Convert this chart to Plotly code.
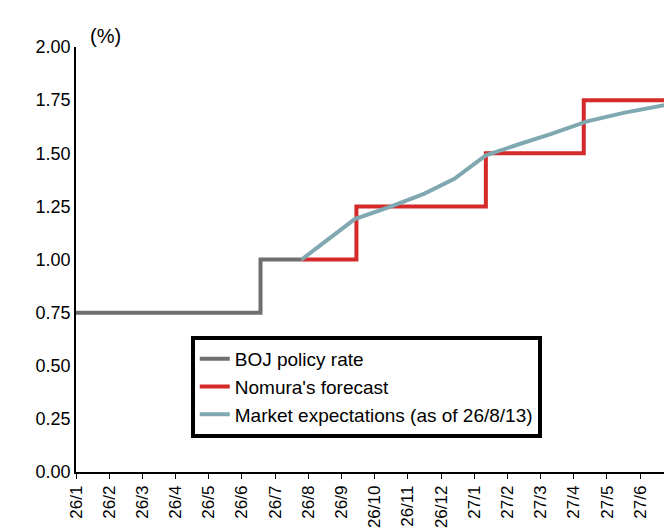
import plotly.graph_objects as go

months = ["26/1", "26/2", "26/3", "26/4", "26/5", "26/6", "26/7", "26/8", "26/9",
          "26/10", "26/11", "26/12", "27/1", "27/2", "27/3", "27/4", "27/5", "27/6"]

# x in months since 26/1
boj_x = [0, 5.56, 5.56, 6.8]
boj_y = [0.75, 0.75, 1.00, 1.00]

nomura_x = [6.8, 8.45, 8.45, 12.35, 12.35, 15.3, 15.3, 18.2]
nomura_y = [1.00, 1.00, 1.25, 1.25, 1.50, 1.50, 1.75, 1.75]

market_x = [6.8, 8.4, 9.5, 10.5, 11.4, 12.35, 13.3, 14.3, 15.4, 16.5, 18.2]
market_y = [1.00, 1.19, 1.25, 1.31, 1.38, 1.49, 1.54, 1.59, 1.65, 1.69, 1.74]

fig = go.Figure()
fig.add_trace(go.Scatter(x=boj_x, y=boj_y, mode="lines", name="BOJ policy rate",
                         line=dict(color="#6f6f6f", width=4)))
fig.add_trace(go.Scatter(x=nomura_x, y=nomura_y, mode="lines", name="Nomura's forecast",
                         line=dict(color="#d42a2a", width=4)))
fig.add_trace(go.Scatter(x=market_x, y=market_y, mode="lines",
                         name="Market expectations (as of 26/8/13)",
                         line=dict(color="#7fa8b0", width=4)))

fig.update_layout(
    width=672, height=530,
    paper_bgcolor="white", plot_bgcolor="white",
    margin=dict(l=68, r=0, t=39, b=66),
    font=dict(family="Liberation Sans, Arial", size=18, color="black"),
    showlegend=True,
    legend=dict(x=0.19, y=0.32, xanchor="left", yanchor="top",
                bordercolor="black", borderwidth=4, bgcolor="white",
                font=dict(size=19), tracegroupgap=0),
    annotations=[dict(text="(%)", x=0.0, y=1.0, xref="paper", yref="paper",
                      xanchor="left", yanchor="bottom", showarrow=False,
                      xshift=12, yshift=-2, font=dict(size=20))],
)
fig.update_xaxes(range=[0, 18.2], tickmode="array", tickvals=list(range(len(months))),
                 ticktext=months, tickangle=-90, showgrid=False, showline=True,
                 linecolor="black", linewidth=1.5, ticks="outside", ticklen=5,
                 tickcolor="black", zeroline=False, tickfont=dict(size=17))
fig.update_yaxes(range=[0, 2.0], tickmode="array",
                 tickvals=[0, 0.25, 0.5, 0.75, 1.0, 1.25, 1.5, 1.75, 2.0],
                 tickformat=".2f", showgrid=False,
                 showline=True, linecolor="black", linewidth=1.5, zeroline=False,
                 ticks="", tickfont=dict(size=18))

fig.write_html("out.html")
